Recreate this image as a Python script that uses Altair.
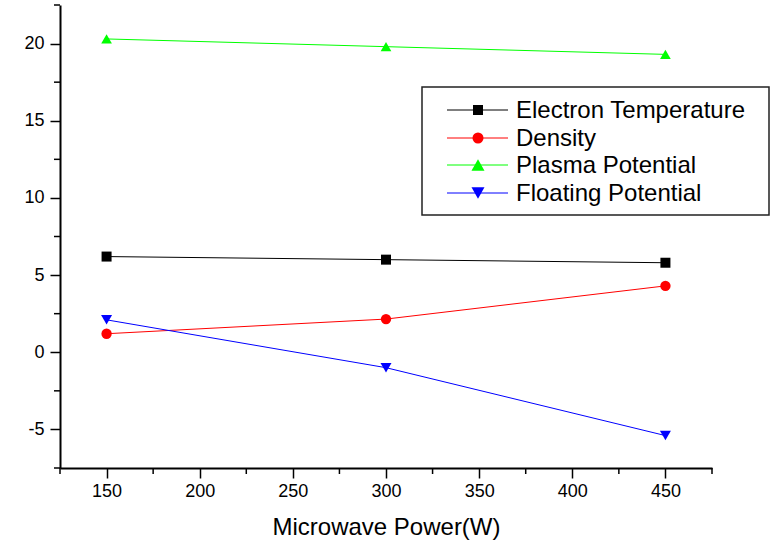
import altair as alt
import pandas as pd

# Measurements at each microwave power setting
power = [150, 300, 450]
electron_temperature = [6.2, 6.0, 5.8]
density = [1.2, 2.15, 4.3]
plasma_potential = [20.3, 19.8, 19.3]
floating_potential = [2.1, -1.0, -5.4]

series_names = ["Electron Temperature", "Density", "Plasma Potential", "Floating Potential"]
series_values = [electron_temperature, density, plasma_potential, floating_potential]
series_colors = ["#000000", "#ff0000", "#00ff00", "#0000ff"]
series_shapes = ["square", "circle", "triangle-up", "triangle-down"]
series_sizes = [100, 121, 170, 170]

x_minor = [125, 175, 225, 275, 325, 375, 425, 475]
y_minor = [-7.5, -2.5, 2.5, 7.5, 12.5, 17.5, 22.5]

FONT = "Liberation Sans"
W, H = 652, 463

rows = []
for name, vals in zip(series_names, series_values):
    for p, v in zip(power, vals):
        rows.append({"Power": p, "Value": v, "Series": name})
df = pd.DataFrame(rows)

x_enc = alt.X(
    "Power:Q",
    scale=alt.Scale(domain=[125, 475], nice=False, zero=False),
    axis=alt.Axis(
        title="Microwave Power(W)",
        values=[150, 200, 250, 300, 350, 400, 450],
        grid=False, tickSize=10, tickWidth=1.5, domainWidth=2,
        domainColor="black", tickColor="black",
        labelFont=FONT, labelFontSize=18, labelColor="black", labelPadding=4,
        titleFont=FONT, titleFontSize=24, titleFontWeight="normal",
        titleColor="black", titlePadding=15,
    ),
)
y_enc = alt.Y(
    "Value:Q",
    scale=alt.Scale(domain=[-7.5, 22.5], nice=False, zero=False),
    axis=alt.Axis(
        title=None,
        values=[-5, 0, 5, 10, 15, 20],
        labelExpr="'' + datum.value",
        grid=False, tickSize=10, tickWidth=1.5, domainWidth=2,
        domainColor="black", tickColor="black",
        labelFont=FONT, labelFontSize=18, labelColor="black", labelPadding=6,
    ),
)

color_scale = alt.Scale(domain=series_names, range=series_colors)
shape_scale = alt.Scale(domain=series_names, range=series_shapes)
size_scale = alt.Scale(domain=series_names, range=series_sizes)

base = alt.Chart(df).encode(
    x=x_enc, y=y_enc,
    color=alt.Color("Series:N", scale=color_scale, legend=None),
)
lines = base.mark_line(strokeWidth=1)
points = base.mark_point(filled=True, opacity=1).encode(
    shape=alt.Shape("Series:N", scale=shape_scale, legend=None),
    size=alt.Size("Series:N", scale=size_scale, legend=None),
)

# Minor ticks on both axes
minor_x = alt.Chart(pd.DataFrame({"Power": x_minor})).mark_rule(
    color="black", strokeWidth=1.5
).encode(x=x_enc, y=alt.value(H), y2=alt.value(H + 6))
minor_y = alt.Chart(pd.DataFrame({"Value": y_minor})).mark_rule(
    color="black", strokeWidth=1.5
).encode(y=y_enc, x=alt.value(-6), x2=alt.value(0))

# Boxed legend with line + marker samples
one = pd.DataFrame({"k": [0]})
legend_layers = [
    alt.Chart(one).mark_rect(fill="white", stroke="#222222", strokeWidth=1.5).encode(
        x=alt.value(362), x2=alt.value(709), y=alt.value(82), y2=alt.value(210)
    )
]
row_y = [105, 133, 160, 188]
for name, col, shp, sz, ry in zip(series_names, series_colors, series_shapes, series_sizes, row_y):
    legend_layers.append(
        alt.Chart(one).mark_rule(color=col, strokeWidth=1).encode(
            x=alt.value(387), x2=alt.value(448), y=alt.value(ry)
        )
    )
    legend_layers.append(
        alt.Chart(one).mark_point(filled=True, size=sz, opacity=1, color=col, shape=shp).encode(
            x=alt.value(418), y=alt.value(ry)
        )
    )
    legend_layers.append(
        alt.Chart(one).mark_text(
            text=name, font=FONT, fontSize=24, color="black",
            align="left", baseline="middle"
        ).encode(x=alt.value(456), y=alt.value(ry + 1))
    )

chart = alt.layer(minor_x, minor_y, lines, points, *legend_layers).properties(
    width=W, height=H,
    autosize=alt.AutoSizeParams(type="none"),
    padding={"left": 60, "top": 5, "right": 61, "bottom": 75},
    background="white",
).configure_view(strokeWidth=0)

chart.save("out.html", embed_options={"renderer": "svg", "actions": False})
